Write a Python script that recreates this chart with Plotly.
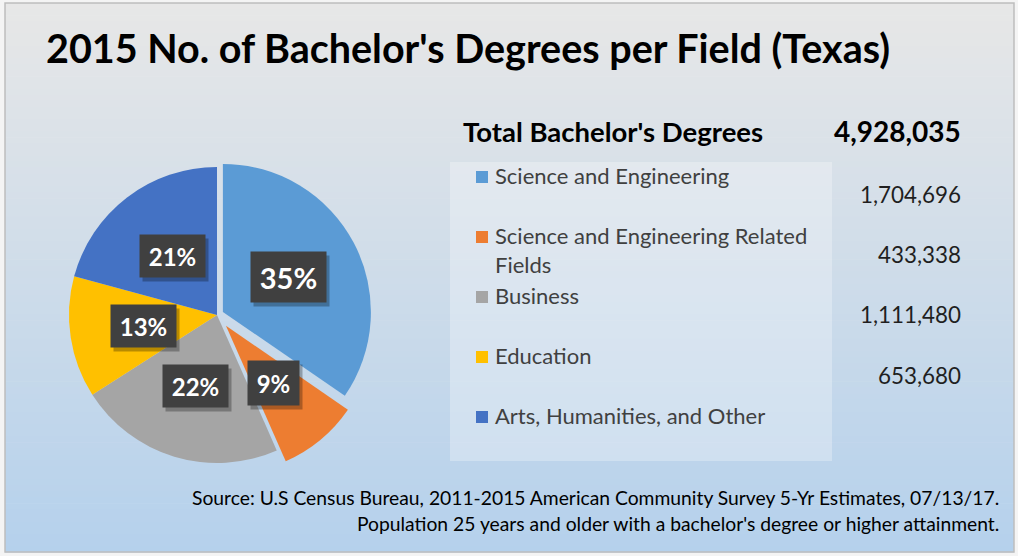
import math
import plotly.graph_objects as go

# ---------------- data ----------------
categories = ["Science and Engineering",
              "Science and Engineering Related Fields",
              "Business",
              "Education",
              "Arts, Humanities, and Other"]
legend_labels = ["Science and Engineering",
                 "Science and Engineering Related<br>Fields",
                 "Business",
                 "Education",
                 "Arts, Humanities, and Other"]
degrees = [1704696, 433338, 1111480, 653680, 1024841]
shown_values = [1704696, 433338, 1111480, 653680]   # values listed beside the legend
pct_labels = ["35%", "9%", "22%", "13%", "21%"]
title_text = "2015 No. of Bachelor's Degrees per Field (Texas)"
total_text = "Total Bachelor's Degrees"
source_lines = ["Source: U.S Census Bureau, 2011-2015 American Community Survey 5-Yr Estimates, 07/13/17.",
                "Population 25 years and older with a bachelor's degree or higher attainment."]

# ---------------- style ----------------
colors = ["#5B9BD5", "#ED7D31", "#A5A5A5", "#FFC000", "#4472C4"]
pulls = [0.045, 0.095, 0, 0, 0]
W, H = 1018, 556
FONT = "Lato"


def px(x):
    return x / W


def py(y):
    return 1 - y / H


R = 148
CX, CY = 217, 315
half = R * (1 + max(pulls))

fig = go.Figure()
fig.add_trace(go.Pie(
    labels=categories, values=degrees, sort=False, direction="clockwise",
    rotation=0, pull=pulls, textinfo="none", hoverinfo="label+value+percent",
    marker=dict(colors=colors, line=dict(width=0)),
    domain=dict(x=[px(CX - half), px(CX + half)], y=[py(CY + half), py(CY - half)]),
    showlegend=False,
))

shapes = []
# background gradient (gray at top -> light blue at bottom)
top_c = (231, 231, 231)
bot_c = (181, 209, 236)
x0b, x1b, y0b, y1b = 5, 1014, 3, 552
n = 90
for i in range(n):
    t = i / (n - 1)
    c = tuple(int(round(top_c[k] + (bot_c[k] - top_c[k]) * t)) for k in range(3))
    ya = y0b + (y1b - y0b) * i / n
    yb = y0b + (y1b - y0b) * (i + 1) / n + 0.6
    shapes.append(dict(type="rect", xref="paper", yref="paper", layer="below",
                       x0=px(x0b), x1=px(x1b), y0=py(yb), y1=py(ya),
                       line=dict(width=0), fillcolor="rgb(%d,%d,%d)" % c))
# border
shapes.append(dict(type="rect", xref="paper", yref="paper", layer="below",
                   x0=px(x0b), x1=px(x1b), y0=py(y1b), y1=py(y0b),
                   line=dict(width=1.5, color="#BDBDBD"), fillcolor="rgba(0,0,0,0)"))
# legend panel
shapes.append(dict(type="rect", xref="paper", yref="paper", layer="below",
                   x0=px(450), x1=px(832), y0=py(461), y1=py(162),
                   line=dict(width=0), fillcolor="rgba(255,255,255,0.28)"))

annotations = []
# title
annotations.append(dict(text="<b>%s</b>" % title_text, x=px(44), y=py(47), xref="paper", yref="paper",
                        xanchor="left", yanchor="middle", showarrow=False,
                        font=dict(family=FONT, size=39.5, color="#000000")))
# header
annotations.append(dict(text="<b>%s</b>" % total_text, x=px(461), y=py(131), xref="paper", yref="paper",
                        xanchor="left", yanchor="middle", showarrow=False,
                        font=dict(family=FONT, size=27.5, color="#000000")))
annotations.append(dict(text="<b>{:,}</b>".format(sum(degrees)), x=px(963), y=py(131), xref="paper",
                        yref="paper", xanchor="right", yanchor="middle", showarrow=False,
                        font=dict(family=FONT, size=28, color="#000000")))

# legend entries
LEG_FS = 22
row0, row_step = 176, 60
for i, (lab, col) in enumerate(zip(legend_labels, colors)):
    yc = row0 + row_step * i
    shapes.append(dict(type="rect", xref="paper", yref="paper",
                       x0=px(476), x1=px(488), y0=py(yc + 7), y1=py(yc - 5),
                       line=dict(width=0), fillcolor=col))
    annotations.append(dict(text=lab, x=px(493), y=py(yc - 16), xref="paper", yref="paper",
                            xanchor="left", yanchor="top", align="left", showarrow=False,
                            font=dict(family=FONT, size=LEG_FS, color="#404040")))

# values column
val0, val_step = 194, 60.4
for i, v in enumerate(shown_values):
    annotations.append(dict(text="{:,}".format(v), x=px(963), y=py(val0 + val_step * i),
                            xref="paper", yref="paper", xanchor="right", yanchor="middle",
                            showarrow=False, font=dict(family=FONT, size=22.4, color="#1F1F1F")))

# percentage labels (positions derived from slice angles)
total = sum(degrees)
cum = 0
lab_sizes = [29, 24, 24, 24, 24]
box_w = [71, 47, 61, 61, 61]
box_h = [46, 40, 38, 38, 38]
for i, v in enumerate(degrees):
    mid = (cum + v / 2) / total
    cum += v
    th = 2 * math.pi * mid
    rr = R * (0.5 + pulls[i])
    lx = CX + rr * math.sin(th)
    ly = CY - rr * math.cos(th)
    common = dict(x=px(lx), y=py(ly), xref="paper", yref="paper", xanchor="center",
                  yanchor="middle", showarrow=False, width=box_w[i], height=box_h[i],
                  align="center", valign="middle", borderpad=2)
    annotations.append(dict(text="&nbsp;", xshift=3, yshift=-4,
                            bgcolor="rgba(0,0,0,0.28)",
                            font=dict(family=FONT, size=10, color="rgba(0,0,0,0)"),
                            **common))
    annotations.append(dict(text="<b>%s</b>" % pct_labels[i], bgcolor="#404040",
                            font=dict(family=FONT, size=lab_sizes[i], color="#FFFFFF"),
                            **common))

# source note
for j, line in enumerate(source_lines):
    annotations.append(dict(text=line, x=px(1001), y=py(497 + 26 * j), xref="paper", yref="paper",
                            xanchor="right", yanchor="middle", showarrow=False,
                            font=dict(family=FONT, size=19.3, color="#000000")))

fig.update_layout(
    width=W, height=H, margin=dict(l=0, r=0, t=0, b=0),
    paper_bgcolor="#F4F4F4", plot_bgcolor="rgba(0,0,0,0)",
    shapes=shapes, annotations=annotations, showlegend=False,
)
fig.write_html("out.html")
